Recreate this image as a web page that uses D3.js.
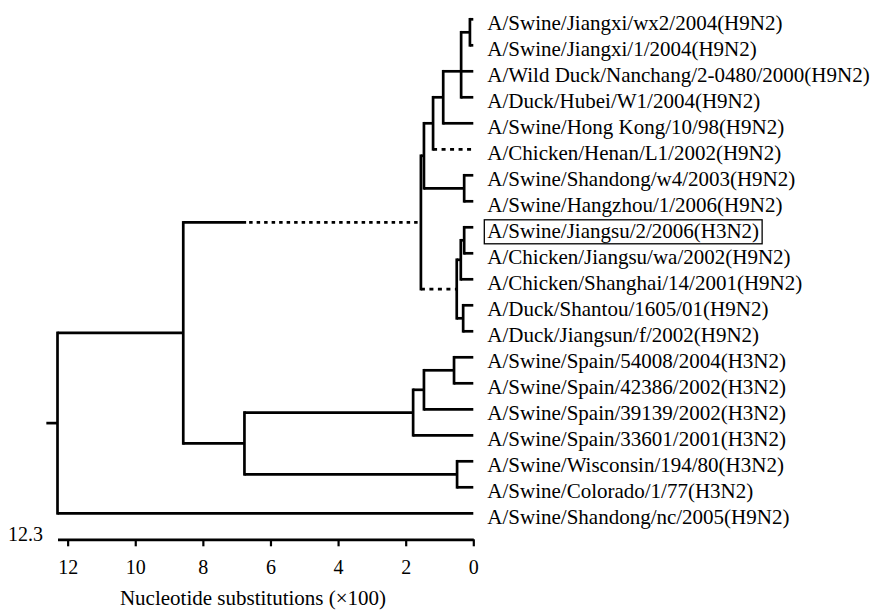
<!DOCTYPE html>
<html>
<head>
<meta charset="utf-8">
<script src="https://cdn.jsdelivr.net/npm/d3@7"></script>
<style>
  body { margin: 0; background: #fff; }
  svg text { font-family: "Liberation Serif", Tinos, "Times New Roman", "DejaVu Serif", serif !important; fill: #000; }
</style>
</head>
<body>
<div id="plot"></div>
<script>
// Tree nodes: id, parent id and node height (substitutions x100). Leaves have height 0.
var nodeIds = [
  "root", "N8", "H9", "A", "B", "C", "E", "JX",
  "A/Swine/Jiangxi/wx2/2004(H9N2)", "A/Swine/Jiangxi/1/2004(H9N2)",
  "A/Wild Duck/Nanchang/2-0480/2000(H9N2)", "A/Duck/Hubei/W1/2004(H9N2)",
  "A/Swine/Hong Kong/10/98(H9N2)", "A/Chicken/Henan/L1/2002(H9N2)",
  "SH", "A/Swine/Shandong/w4/2003(H9N2)", "A/Swine/Hangzhou/1/2006(H9N2)",
  "F", "G", "H",
  "A/Swine/Jiangsu/2/2006(H3N2)", "A/Chicken/Jiangsu/wa/2002(H9N2)",
  "A/Chicken/Shanghai/14/2001(H9N2)",
  "I", "A/Duck/Shantou/1605/01(H9N2)", "A/Duck/Jiangsun/f/2002(H9N2)",
  "N6", "N177", "N145", "N056",
  "A/Swine/Spain/54008/2004(H3N2)", "A/Swine/Spain/42386/2002(H3N2)",
  "A/Swine/Spain/39139/2002(H3N2)", "A/Swine/Spain/33601/2001(H3N2)",
  "WC", "A/Swine/Wisconsin/194/80(H3N2)", "A/Swine/Colorado/1/77(H3N2)",
  "A/Swine/Shandong/nc/2005(H9N2)"
];
var nodeParents = [
  "", "root", "N8", "H9", "A", "B", "C", "E",
  "JX", "JX",
  "E", "E",
  "C", "B",
  "A", "SH", "SH",
  "H9", "F", "G",
  "H", "H",
  "G",
  "F", "I", "I",
  "N8", "N6", "N177", "N145",
  "N056", "N056",
  "N145", "N177",
  "N6", "WC", "WC",
  "root"
];
var nodeHeights = [
  12.3, 8.58, 1.55, 1.46, 1.19, 0.89, 0.36, 0.1,
  0, 0,
  0, 0,
  0, 0,
  0.27, 0, 0,
  0.49, 0.37, 0.27,
  0, 0,
  0,
  0.3, 0, 0,
  6.77, 1.78, 1.46, 0.57,
  0, 0,
  0, 0,
  0.48, 0, 0,
  0
];

// Branches drawn broken / dashed
var dashedBranches = ["A/Chicken/Henan/L1/2002(H9N2)", "F"];
var brokenBranch = "H9";
var brokenFrom = 6.72;
var boxedLeaf = "A/Swine/Jiangsu/2/2006(H3N2)";
var rootStub = 0.33;

var tickValues = [0, 2, 4, 6, 8, 10, 12];
var rootLabel = "12.3";
var axisTitle = "Nucleotide substitutions (\u00d7100)";

// Layout
var width = 875, height = 610;

var svg = d3.select("#plot").append("svg")
  .attr("width", width)
  .attr("height", height);

var table = nodeIds.map(function(id, i) {
  return { id: id, parent: nodeParents[i], h: nodeHeights[i] };
});
var root = d3.stratify()
  .id(function(d) { return d.id; })
  .parentId(function(d) { return d.parent || null; })(table);

var leaves = root.leaves();

var x = d3.scaleLinear().domain([0, 12.3]).range([473.3, 57.5]);
var y = d3.scalePoint()
  .domain(leaves.map(function(d) { return d.id; }))
  .range([19.3, 513.3]);

// y of each node: leaves from the scale, inner nodes from their children
root.eachAfter(function(n) {
  if (!n.children) { n.py = y(n.id); return; }
  var c = n.children;
  if (c.length % 2 === 1) n.py = c[(c.length - 1) / 2].py;
  else n.py = (c[0].py + c[c.length - 1].py) / 2;
});

var tree = svg.append("g")
  .attr("fill", "none")
  .attr("stroke", "#000")
  .attr("stroke-width", 2.7);

// vertical lines at every inner node
tree.selectAll(".v")
  .data(root.descendants().filter(function(d) { return d.children; }))
  .enter().append("line")
  .attr("class", "v")
  .attr("stroke-linecap", "square")
  .attr("x1", function(d) { return x(d.data.h); })
  .attr("x2", function(d) { return x(d.data.h); })
  .attr("y1", function(d) { return d.children[0].py; })
  .attr("y2", function(d) { return d.children[d.children.length - 1].py; });

// horizontal branches
root.descendants().forEach(function(d) {
  if (!d.parent) return;
  var x0 = x(d.parent.data.h), x1 = x(d.data.h);
  if (d.id === brokenBranch) {
    tree.append("line")
      .attr("x1", x0).attr("x2", x(brokenFrom))
      .attr("y1", d.py).attr("y2", d.py);
    tree.append("line")
      .attr("x1", x(brokenFrom) + 3).attr("x2", x1)
      .attr("y1", d.py).attr("y2", d.py)
      .attr("stroke-dasharray", "3.5,4");
  } else if (dashedBranches.includes(d.id)) {
    tree.append("line")
      .attr("x1", x0).attr("x2", x1)
      .attr("y1", d.py).attr("y2", d.py)
      .attr("stroke-dasharray", "4,4.5");
  } else {
    tree.append("line")
      .attr("x1", x0).attr("x2", x1)
      .attr("y1", d.py).attr("y2", d.py);
  }
});

// root stub
tree.append("line")
  .attr("x1", x(root.data.h + rootStub)).attr("x2", x(root.data.h))
  .attr("y1", root.py).attr("y2", root.py);

// leaf labels
var labels = svg.append("g")
  .style("font-size", "21px");
labels.selectAll("text")
  .data(leaves)
  .enter().append("text")
  .attr("x", x(0) + 14)
  .attr("y", function(d) { return d.py; })
  .attr("dy", "0.5em")
  .text(function(d) { return d.id; });

// box round one label
labels.selectAll("text").each(function(d) {
  if (d.id !== boxedLeaf) return;
  var b = this.getBBox();
  labels.append("rect")
    .attr("x", b.x - 3).attr("y", b.y + 1)
    .attr("width", b.width + 6).attr("height", b.height)
    .attr("fill", "none").attr("stroke", "#000").attr("stroke-width", 1.3);
});

// axis
var axisY = 539.3;
var axis = svg.append("g")
  .attr("transform", "translate(0," + axisY + ")")
  .call(d3.axisBottom(x).tickValues(tickValues).tickSize(7).tickSizeOuter(0).tickPadding(14)
    .tickFormat(d3.format("d")));
axis.select(".domain").attr("stroke-width", 2.7);
axis.selectAll(".tick line").attr("stroke-width", 2.2);
axis.selectAll(".tick text").style("font-size", "20px");

svg.append("text")
  .attr("x", 43).attr("y", axisY + 2)
  .attr("text-anchor", "end")
  .style("font-size", "20px")
  .text(rootLabel);

svg.append("text")
  .attr("x", 253).attr("y", 605)
  .attr("text-anchor", "middle")
  .style("font-size", "21px")
  .text(axisTitle);
</script>
</body>
</html>
